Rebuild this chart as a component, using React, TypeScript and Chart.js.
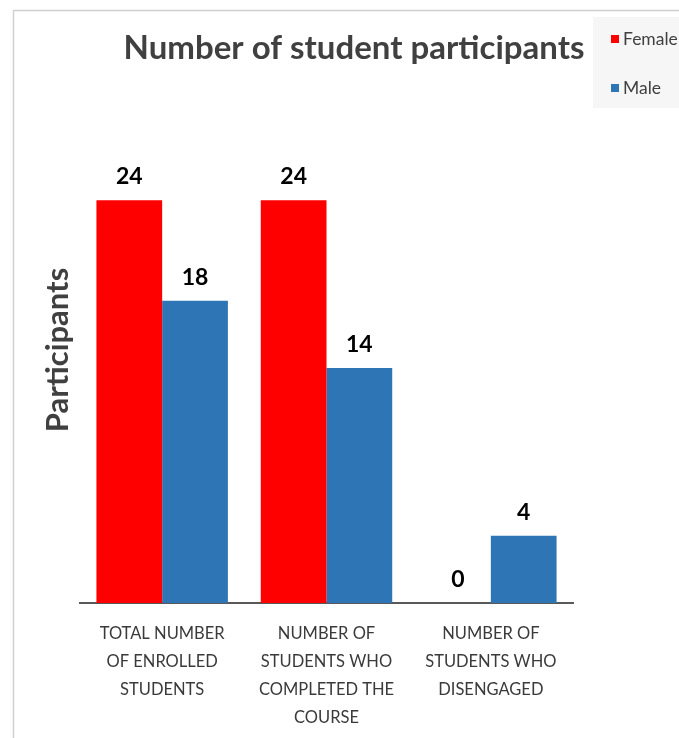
import React, { useEffect, useRef } from "react";
import { Chart, registerables } from "chart.js";

Chart.register(...registerables);

const categories: string[][] = [
  ["TOTAL NUMBER", "OF ENROLLED", "STUDENTS"],
  ["NUMBER OF", "STUDENTS WHO", "COMPLETED THE", "COURSE"],
  ["NUMBER OF", "STUDENTS WHO", "DISENGAGED"],
];
const femaleValues = [24, 24, 0];
const maleValues = [18, 14, 4];
const seriesNames = ["Female", "Male"];
const seriesColors = ["#FF0000", "#2E75B6"];
const titleText = "Number of student participants";
const yTitle = "Participants";

const FONT = "Lato, 'Open Sans', sans-serif";
const CANVAS_H = 749;

const framePlugin = {
  id: "frame",
  beforeDraw(chart: any) {
    const ctx = chart.ctx;
    ctx.save();
    ctx.fillStyle = "#ffffff";
    ctx.fillRect(0, 0, chart.width, chart.height);
    ctx.strokeStyle = "#d0d0d0";
    ctx.lineWidth = 1.5;
    ctx.beginPath();
    ctx.moveTo(13.5, chart.height);
    ctx.lineTo(13.5, 10.5);
    ctx.lineTo(chart.width, 10.5);
    ctx.stroke();
    ctx.restore();
  },
};

const textPlugin = {
  id: "texts",
  afterDraw(chart: any) {
    const ctx = chart.ctx;
    ctx.save();
    // title
    ctx.fillStyle = "#404040";
    ctx.font = `bold 33px ${FONT}`;
    ctx.textAlign = "center";
    ctx.textBaseline = "alphabetic";
    ctx.fillText(titleText, 354, 59);
    // y axis title
    ctx.save();
    ctx.translate(58, 350);
    ctx.rotate(-Math.PI / 2);
    ctx.font = `bold 31px ${FONT}`;
    ctx.textBaseline = "middle";
    ctx.fillText(yTitle, 0, 0);
    ctx.restore();
    // legend
    ctx.fillStyle = "#f6f6f6";
    ctx.fillRect(593, 17, chart.width - 593, 91);
    chart.data.datasets.forEach((ds: any, i: number) => {
      const y = 39 + i * 49;
      ctx.fillStyle = ds.backgroundColor;
      ctx.fillRect(611, y - 4, 8, 8);
      ctx.fillStyle = "#404040";
      ctx.font = `17.5px ${FONT}`;
      ctx.textBaseline = "middle";
      ctx.textAlign = "left";
      ctx.fillText(ds.label, 623, y);
    });
    ctx.restore();
  },
};

const dataLabelPlugin = {
  id: "dataLabels",
  afterDatasetsDraw(chart: any) {
    const ctx = chart.ctx;
    ctx.save();
    ctx.fillStyle = "#000000";
    ctx.font = `bold 23px ${FONT}`;
    ctx.textAlign = "center";
    ctx.textBaseline = "alphabetic";
    chart.data.datasets.forEach((ds: any, i: number) => {
      const meta = chart.getDatasetMeta(i);
      meta.data.forEach((el: any, j: number) => {
        ctx.fillText(String(ds.data[j]), el.x, el.y - 16);
      });
    });
    ctx.restore();
  },
};

export default function App() {
  const ref = useRef<HTMLCanvasElement>(null);
  useEffect(() => {
    if (!ref.current) return;
    const chart = new Chart(ref.current, {
      type: "bar",
      data: {
        labels: categories,
        datasets: [
          { label: seriesNames[0], data: femaleValues, backgroundColor: seriesColors[0] },
          { label: seriesNames[1], data: maleValues, backgroundColor: seriesColors[1] },
        ],
      },
      options: {
        animation: false,
        responsive: false,
        maintainAspectRatio: false,
        layout: { padding: { left: 80, right: 106, top: 133, bottom: 0 } },
        datasets: { bar: { categoryPercentage: 0.8, barPercentage: 1.0 } },
        plugins: {
          legend: { display: false },
          tooltip: { enabled: false },
          title: { display: false },
        },
        scales: {
          x: {
            grid: { display: false, drawTicks: false },
            border: { display: true, color: "#595959", width: 2 },
            ticks: {
              color: "#3a3a3a",
              font: { family: FONT, size: 16.5, lineHeight: 28 / 16.5 },
              padding: 17,
              maxRotation: 0,
              autoSkip: false,
            },
          },
          y: {
            min: 0,
            max: 28,
            grid: { display: false, drawTicks: false },
            border: { display: false },
            ticks: { display: false },
          },
        },
      },
      plugins: [framePlugin, textPlugin, dataLabelPlugin],
    });
    return () => chart.destroy();
  }, []);
  return (
    <div style={{ position: "absolute", left: 0, top: 0, width: 679, height: 738, overflow: "hidden" }}>
      <canvas ref={ref} width={679} height={CANVAS_H} style={{ width: 679, height: CANVAS_H, display: "block" }} />
    </div>
  );
}
